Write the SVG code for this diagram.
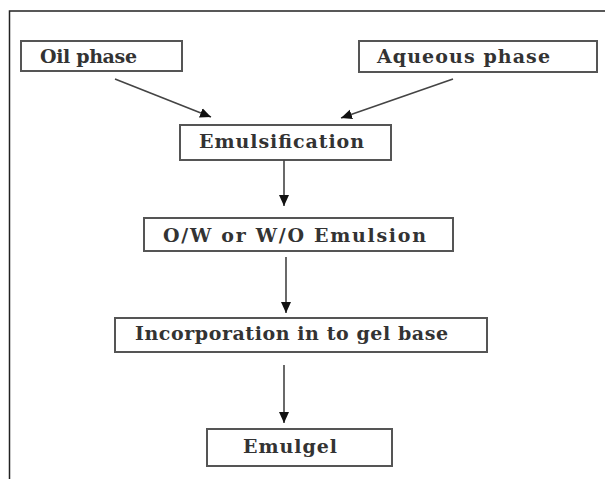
<svg xmlns="http://www.w3.org/2000/svg" width="605" height="479" viewBox="0 0 605 479">
  <style>
    .box { fill: #ffffff; stroke: #555555; stroke-width: 2; }
    .lbl { font-family: "DejaVu Serif", "Liberation Serif", serif; font-weight: bold; font-size: 19px; fill: #333333; }
    .conn { stroke: #444444; stroke-width: 1.6; fill: none; marker-end: url(#arr); }
    .frame { stroke: #222222; stroke-width: 1.5; fill: none; }
  </style>
  <defs>
    <marker id="arr" markerUnits="userSpaceOnUse" markerWidth="12" markerHeight="12" viewBox="0 0 12 12" refX="11" refY="6" orient="auto">
      <path d="M0,1 L11,6 L0,11 Z" fill="#111111"/>
    </marker>
  </defs>
  <rect width="605" height="479" fill="#ffffff"/>
  <path class="frame" d="M9.5,479 L9.5,11 L605,11"/>

  <g id="oil-phase">
    <rect class="box" x="21" y="41" width="161" height="30"/>
    <text class="lbl" x="40" y="63" textLength="97" lengthAdjust="spacing">Oil phase</text>
  </g>
  <g id="aqueous-phase">
    <rect class="box" x="359" y="41" width="238" height="31"/>
    <text class="lbl" x="377" y="63" textLength="173" lengthAdjust="spacing">Aqueous phase</text>
  </g>
  <g id="emulsification">
    <rect class="box" x="180" y="125" width="211" height="35"/>
    <text class="lbl" x="199" y="148" textLength="165" lengthAdjust="spacing">Emulsification</text>
  </g>
  <g id="emulsion">
    <rect class="box" x="144" y="218" width="309" height="33"/>
    <text class="lbl" x="163" y="242" textLength="263" lengthAdjust="spacing">O/W or W/O Emulsion</text>
  </g>
  <g id="incorporation">
    <rect class="box" x="115" y="318" width="372" height="34"/>
    <text class="lbl" x="135" y="340" textLength="313" lengthAdjust="spacing">Incorporation in to gel base</text>
  </g>
  <g id="emulgel">
    <rect class="box" x="207" y="429" width="185" height="37"/>
    <text class="lbl" x="243" y="453" textLength="94" lengthAdjust="spacing">Emulgel</text>
  </g>

  <g id="connectors">
    <line class="conn" x1="115" y1="79" x2="211" y2="117"/>
    <line class="conn" x1="453" y1="79" x2="341" y2="118"/>
    <line class="conn" x1="284" y1="160" x2="284" y2="206"/>
    <line class="conn" x1="286" y1="257" x2="286" y2="313"/>
    <line class="conn" x1="284" y1="365" x2="284" y2="423"/>
  </g>
</svg>
